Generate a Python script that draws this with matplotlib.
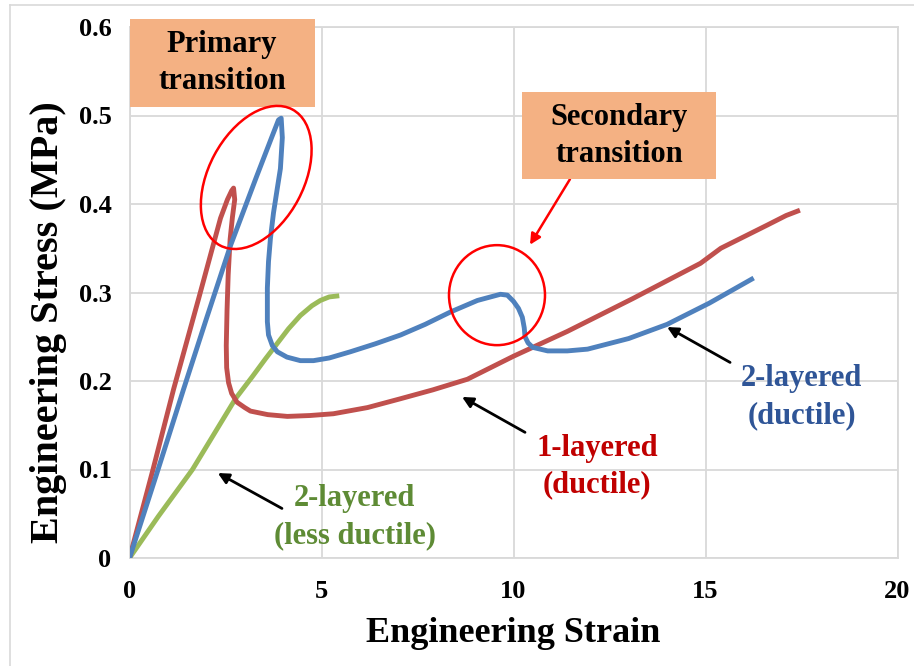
import numpy as np
import matplotlib.pyplot as plt
from matplotlib.patches import Ellipse, Rectangle
from matplotlib.lines import Line2D
from matplotlib.transforms import ScaledTranslation

# ---------------------------------------------------------------------------
# values
one_layer_strain = [0, 0.6, 1.15, 1.8, 2.37, 2.55, 2.66, 2.71, 2.74, 2.68, 2.62, 2.57, 2.54,
                    2.52, 2.53, 2.58, 2.66, 2.80, 3.0, 3.15, 3.6, 4.11, 4.7, 5.31, 6.2, 7.06,
                    7.9, 8.8, 10.0, 11.4, 13.1, 14.87, 15.4, 16.0, 16.6, 17.1, 17.4]
one_layer_stress = [0, 0.098, 0.191, 0.293, 0.384, 0.405, 0.415, 0.418, 0.405, 0.385, 0.36,
                    0.32, 0.28, 0.24, 0.215, 0.198, 0.186, 0.176, 0.170, 0.166, 0.162, 0.160,
                    0.161, 0.163, 0.170, 0.180, 0.190, 0.202, 0.228, 0.256, 0.293, 0.333,
                    0.350, 0.363, 0.376, 0.387, 0.392]

two_layer_strain = [0, 0.7, 1.41, 2.0, 2.63, 3.3, 3.7, 3.88, 3.95, 3.98, 3.93, 3.85, 3.75,
                    3.67, 3.62, 3.59, 3.59, 3.62, 3.72, 3.85, 4.1, 4.45, 4.79, 5.2, 5.75, 6.4,
                    7.06, 7.7, 8.36, 9.06, 9.66, 9.84, 10.0, 10.13, 10.23, 10.28, 10.3, 10.38,
                    10.5, 10.89, 11.4, 11.93, 13.0, 14.0, 15.1, 16.2]
two_layer_stress = [0, 0.094, 0.191, 0.27, 0.353, 0.43, 0.475, 0.495, 0.497, 0.475, 0.44,
                    0.418, 0.39, 0.361, 0.335, 0.305, 0.267, 0.252, 0.240, 0.233, 0.227,
                    0.223, 0.223, 0.226, 0.233, 0.242, 0.252, 0.264, 0.278, 0.291, 0.298,
                    0.297, 0.290, 0.282, 0.272, 0.260, 0.250, 0.243, 0.238, 0.234, 0.234,
                    0.236, 0.248, 0.264, 0.288, 0.315]

less_ductile_strain = [0, 0.75, 1.64, 2.2, 2.76, 3.2, 3.54, 4.14, 4.45, 4.75, 4.97, 5.2, 5.4]
less_ductile_stress = [0, 0.047, 0.1, 0.14, 0.18, 0.205, 0.225, 0.259, 0.274, 0.285, 0.291,
                       0.295, 0.296]

x_ticks = [0, 5, 10, 15, 20]
y_ticks = [0, 0.1, 0.2, 0.3, 0.4, 0.5, 0.6]
y_tick_labels = ['0', '0.1', '0.2', '0.3', '0.4', '0.5', '0.6']
# ---------------------------------------------------------------------------

serif = 'Liberation Serif'
c_red, c_blue, c_green = '#C0504D', '#4F81BD', '#9BBB59'
box_color = '#F4B183'
grid_color = '#D9D9D9'

fig = plt.figure(figsize=(9.14, 6.66), dpi=100)
ax = fig.add_axes([129.5/914, 1 - 558/666, (897.5 - 129.5)/914, (558 - 27)/666])

ax.plot(less_ductile_strain, less_ductile_stress, color=c_green, lw=3.5, solid_joinstyle='round', zorder=3)
ax.plot(one_layer_strain, one_layer_stress, color=c_red, lw=3.5, solid_joinstyle='round', zorder=3)
ax.plot(two_layer_strain, two_layer_stress, color=c_blue, lw=3.5, solid_joinstyle='round', zorder=4)

ax.set_xlim(0, 20)
ax.set_ylim(0, 0.6)
ax.set_xticks(x_ticks)
ax.set_yticks(y_ticks)
ax.set_yticklabels(y_tick_labels)
ax.tick_params(length=0, labelsize=19)
ax.tick_params(axis='x', pad=16)
ax.tick_params(axis='y', pad=13)
for lab in ax.get_xticklabels() + ax.get_yticklabels():
    lab.set_fontfamily(serif)
    lab.set_fontweight('bold')
ax.grid(True, color=grid_color, lw=1.3, zorder=0)
ax.set_axisbelow(True)
for s in ax.spines.values():
    s.set_color(grid_color)
    s.set_linewidth(1.3)

ax.set_xlabel('Engineering Strain', fontsize=26, fontfamily=serif, fontweight='bold', labelpad=10)
ax.set_ylabel('Engineering Stress (MPa)', fontsize=29, fontfamily=serif, fontweight='bold')
ax.yaxis.set_label_coords(-0.082, 0.444)

# transition boxes
ax.add_patch(Rectangle((0, 0.51), 4.82, 0.099, facecolor=box_color, edgecolor='none',
                       clip_on=False, zorder=5))
ax.text(2.41, 0.559, 'Primary\ntransition', ha='center', va='center', fontsize=22,
        fontfamily=serif, fontweight='bold', linespacing=1.35, zorder=6)
ax.add_patch(Rectangle((10.22, 0.428), 5.05, 0.099, facecolor=box_color, edgecolor='none',
                       zorder=5))
ax.text(12.75, 0.477, 'Secondary\ntransition', ha='center', va='center', fontsize=22,
        fontfamily=serif, fontweight='bold', linespacing=1.35, zorder=6)

# circles round the transitions
ax.add_patch(Ellipse((0, 0), 1.54, 0.95, angle=62, fill=False, edgecolor='#FF0000', lw=1.8,
                     transform=fig.dpi_scale_trans + ScaledTranslation(3.3, 0.43, ax.transData),
                     zorder=6))
ax.add_patch(Ellipse((0, 0), 0.96, 1.0, fill=False, edgecolor='#FF0000', lw=1.8,
                     transform=fig.dpi_scale_trans + ScaledTranslation(9.57, 0.297, ax.transData),
                     zorder=6))
ax.annotate('', xy=(10.43, 0.354), xytext=(11.47, 0.428),
            arrowprops=dict(arrowstyle='-|>', color='#FF0000', lw=1.8, mutation_scale=16,
                            shrinkA=0, shrinkB=0))

# curve labels
ax.text(5.87, 0.046, '2-layered\n(less ductile)', ha='center', va='center', fontsize=22,
        fontfamily=serif, fontweight='bold', color='#5E8B35', linespacing=1.35)
ax.annotate('', xy=(2.30, 0.096), xytext=(3.97, 0.056),
            arrowprops=dict(arrowstyle='-|>', color='black', lw=2, mutation_scale=16,
                            shrinkA=0, shrinkB=0))
ax.text(12.17, 0.103, '1-layered\n(ductile)', ha='center', va='center', fontsize=22,
        fontfamily=serif, fontweight='bold', color='#C00000', linespacing=1.35)
ax.annotate('', xy=(8.66, 0.182), xytext=(10.30, 0.142),
            arrowprops=dict(arrowstyle='-|>', color='black', lw=2, mutation_scale=16,
                            shrinkA=0, shrinkB=0))
ax.text(17.51, 0.182, '2-layered\n(ductile)', ha='center', va='center', fontsize=22,
        fontfamily=serif, fontweight='bold', color='#2F5597', linespacing=1.35)
ax.annotate('', xy=(14.0, 0.261), xytext=(15.64, 0.221),
            arrowprops=dict(arrowstyle='-|>', color='black', lw=2, mutation_scale=16,
                            shrinkA=0, shrinkB=0))

# thin frame of the chart area (top and left edges)
fig.add_artist(Line2D([10/914, 1], [1 - 5/666, 1 - 5/666], color=grid_color, lw=1.2))
fig.add_artist(Line2D([10/914, 10/914], [0, 1 - 5/666], color=grid_color, lw=1.2))

fig.savefig('out.png', dpi=100)
